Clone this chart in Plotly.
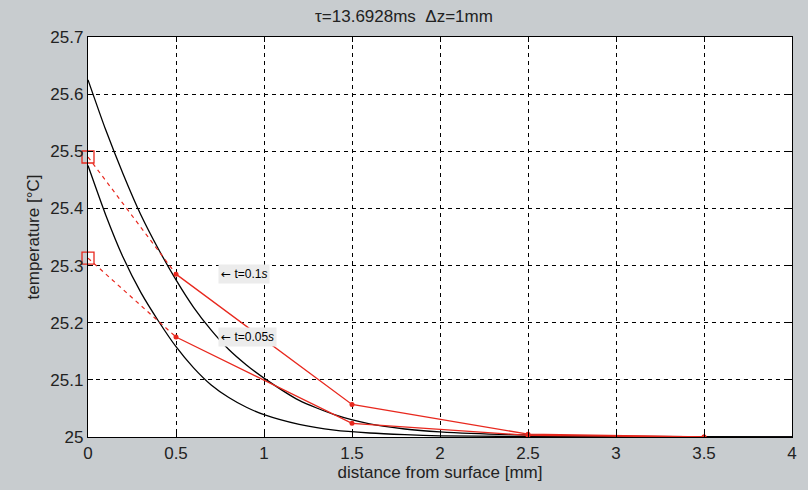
import plotly.graph_objects as go

# Analytic temperature profiles (black curves)
z_fine = [0, 0.1, 0.2, 0.3, 0.4, 0.5, 0.6, 0.7, 0.8, 0.9, 1.0, 1.2, 1.4, 1.6, 1.8, 2.0, 2.4, 3.0, 4.0]
T_exact_01 = [25.625, 25.538, 25.460, 25.389, 25.329, 25.275, 25.227, 25.187, 25.153, 25.126,
              25.103, 25.064, 25.039, 25.023, 25.014, 25.009, 25.004, 25.001, 25.000]
T_exact_005 = [25.475, 25.389, 25.314, 25.253, 25.203, 25.158, 25.121, 25.091, 25.069, 25.052,
               25.039, 25.022, 25.012, 25.007, 25.004, 25.002, 25.001, 25.000, 25.000]

# Discrete (cell-centred) solution, dz = 1 mm
z_cells = [0.5, 1.5, 2.5, 3.5]
T_num_01 = [25.285, 25.057, 25.005, 25.000]
T_num_005 = [25.175, 25.024, 25.003, 25.000]

# Extrapolated surface temperatures
z_surf = [0]
T_surf_01 = [25.49]
T_surf_005 = [25.313]

x_ticks = [0, 0.5, 1, 1.5, 2, 2.5, 3, 3.5, 4]
x_tick_text = ["0", "0.5", "1", "1.5", "2", "2.5", "3", "3.5", "4"]
y_ticks = [25, 25.1, 25.2, 25.3, 25.4, 25.5, 25.6, 25.7]
y_tick_text = ["25", "25.1", "25.2", "25.3", "25.4", "25.5", "25.6", "25.7"]

RED = "#e8281e"
FONT = "Liberation Sans, Arial, sans-serif"

fig = go.Figure()

for T in (T_exact_01, T_exact_005):
    fig.add_trace(go.Scatter(x=z_fine, y=T, mode="lines",
                             line=dict(color="black", width=1.3, shape="spline", smoothing=0.6),
                             showlegend=False, hoverinfo="skip"))

for Ts, Tn in ((T_surf_01, T_num_01), (T_surf_005, T_num_005)):
    # dashed link from surface value to first cell
    fig.add_trace(go.Scatter(x=[z_surf[0], z_cells[0]], y=[Ts[0], Tn[0]], mode="lines",
                             line=dict(color=RED, width=1.2, dash="4px,4px"),
                             showlegend=False, hoverinfo="skip"))
    fig.add_trace(go.Scatter(x=z_cells, y=Tn, mode="lines+markers",
                             line=dict(color=RED, width=1.3),
                             marker=dict(color=RED, size=5, symbol="circle"),
                             showlegend=False, hoverinfo="skip"))
    fig.add_trace(go.Scatter(x=z_surf, y=Ts, mode="markers",
                             marker=dict(color="rgba(0,0,0,0)", size=12, symbol="square",
                                         line=dict(color=RED, width=1.3)),
                             showlegend=False, hoverinfo="skip", cliponaxis=False))

ARROW = "<span style='font-family:DejaVu Sans'>\u2190</span>"
for label, yv in ((ARROW + " t=0.1<i>s</i>", T_num_01[0]), (ARROW + " t=0.05<i>s</i>", T_num_005[0])):
    fig.add_annotation(x=0.74, y=yv, text=label, showarrow=False, xanchor="left", yanchor="middle",
                       font=dict(family=FONT, size=12, color="black"), bgcolor="#ececec", borderpad=2)

axis_common = dict(showline=True, linecolor="black", linewidth=1.3, mirror="allticks",
                   ticks="inside", ticklen=5, tickcolor="black",
                   showgrid=True, gridcolor="black", gridwidth=1, griddash="4px,4px",
                   zeroline=False, tickfont=dict(family=FONT, size=17, color="#222"))

fig.update_xaxes(range=[0, 4], tickvals=x_ticks, ticktext=x_tick_text,
                 title=dict(text="distance from surface [mm]", font=dict(family=FONT, size=17, color="#222"), standoff=2),
                 **axis_common)
fig.update_yaxes(range=[25, 25.7], tickvals=y_ticks, ticktext=y_tick_text,
                 title=dict(text="temperature [\u00b0C]", font=dict(family=FONT, size=17, color="#222"), standoff=6),
                 **axis_common)

fig.update_layout(
    width=808, height=490,
    margin=dict(l=88, r=16, t=37, b=53),
    paper_bgcolor="#c8cccf", plot_bgcolor="white",
    title=dict(text="\u03c4=13.6928ms  \u0394z=1mm", x=0.5, xanchor="center", y=0.967, yanchor="middle",
               font=dict(family=FONT, size=17, color="#222")),
    showlegend=False,
)

fig.write_html("out.html")
